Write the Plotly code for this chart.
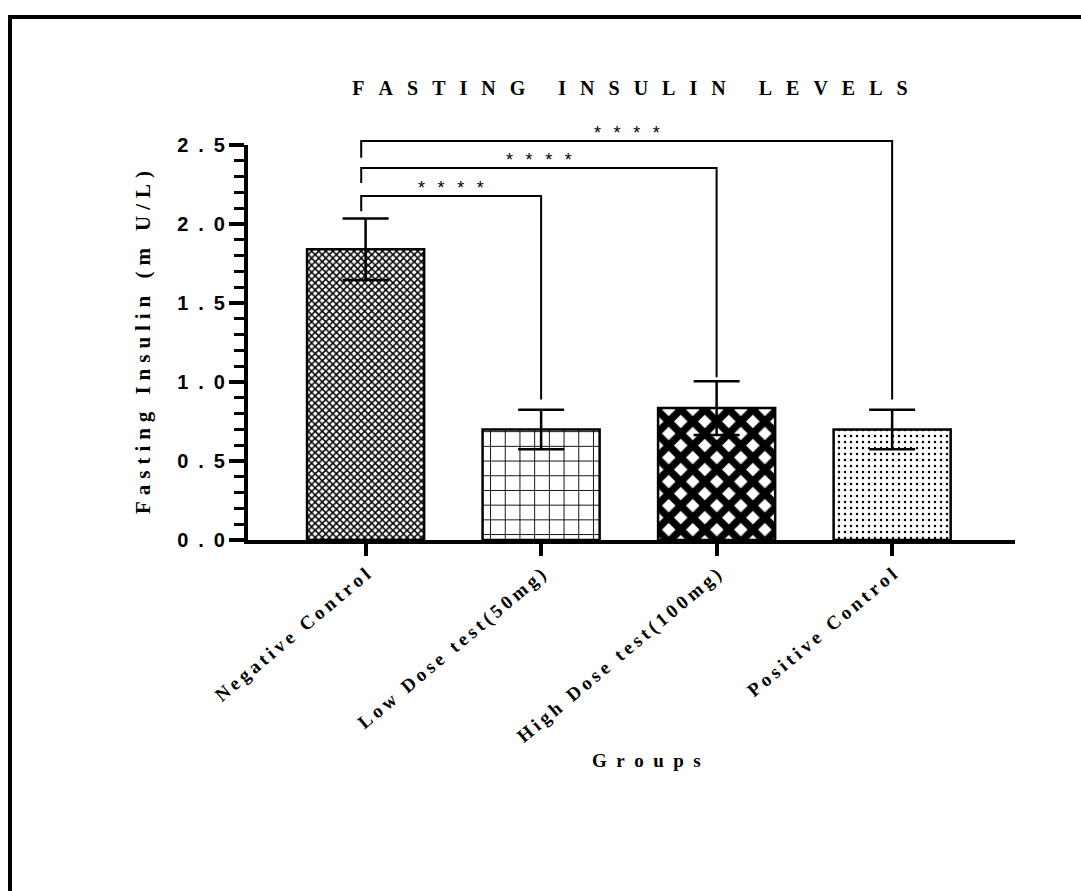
import plotly.graph_objects as go

# ---------------- data ----------------
groups = ["Negative Control", "Low Dose test(50mg)", "High Dose test(100mg)", "Positive Control"]
means = [1.84, 0.70, 0.835, 0.70]
sems = [0.195, 0.125, 0.17, 0.125]

comparisons = [(0, 1), (0, 2), (0, 3)]
bracket_levels = [2.177, 2.354, 2.525]
left_leg_ends = [2.08, 2.26, 2.42]
right_leg_ends = [0.89, 1.03, 0.89]
sig_labels = ["****", "****", "****"]

ytick_vals = [0, 0.5, 1.0, 1.5, 2.0, 2.5]
ytick_text = ["0.0", "0.5", "1.0", "1.5", "2.0", "2.5"]

title_text = "FASTING INSULIN LEVELS"
ytitle_text = "Fasting Insulin (m U/L)"
xtitle_text = "Groups"

# ---------------- style ----------------
pat_shapes = ["x", "+", "x", "."]
pat_sizes = [5, 14.7, 17, 6]
pat_solid = [0.5, 0.12, 0.68, 0.14]

W, H = 1081, 891
ML, MR, MT, MB = 248, 66, 115, 351
plot_h = H - MT - MB
plot_w = W - ML - MR
y_top = 2.5
yd1 = 395 / plot_h  # main y-axis domain top (axis ends at 2.5)

SERIF = "Liberation Serif"
SANS = "Liberation Sans"


def spaced(s, gap):
    return gap.join(s)


def px2x(p):
    return (p - ML) / plot_w


def py2y(p):
    return (H - MB - p) / plot_h


xs = list(range(len(groups)))

fig = go.Figure()
fig.add_trace(go.Bar(
    x=xs, y=means, width=0.667,
    marker=dict(
        color="white",
        line=dict(color="black", width=2.5),
        pattern=dict(shape=pat_shapes, size=pat_sizes, solidity=pat_solid,
                     fgcolor="black", bgcolor="white", fgopacity=1,
                     fillmode="replace"),
    ),
    error_y=dict(type="data", array=sems, visible=True, color="black",
                 thickness=2.5, width=23),
    showlegend=False, hoverinfo="skip",
))

# significance brackets (on a taller invisible axis with identical scale so they are not clipped)
for (a, b), lvl, le, re_, lab in zip(comparisons, bracket_levels, left_leg_ends,
                                     right_leg_ends, sig_labels):
    xa = xs[a] - 0.025
    xb = xs[b]
    fig.add_trace(go.Scatter(
        x=[xa, xa, xb, xb], y=[le, lvl, lvl, re_], mode="lines",
        line=dict(color="black", width=2), xaxis="x", yaxis="y2",
        showlegend=False, hoverinfo="skip",
    ))
    fig.add_annotation(
        x=(xa + xb) / 2, y=lvl, xref="x", yref="y2", yanchor="bottom",
        text=spaced(lab, "\u2002\u2009"), showarrow=False, yshift=-4,
        font=dict(family=SANS, size=18, color="black"),
    )

# frame (left/top visible, right/bottom beyond the page)
fig.add_shape(type="rect", xref="paper", yref="paper",
              x0=px2x(10), x1=px2x(W + 20), y0=py2y(H + 20), y1=py2y(17),
              line=dict(color="black", width=4), fillcolor="rgba(0,0,0,0)")

# x-axis title
fig.add_annotation(x=px2x(646), y=py2y(760), xref="paper", yref="paper",
                   text=spaced(xtitle_text, "\u2002"), showarrow=False,
                   xanchor="center", yanchor="middle",
                   font=dict(family=SERIF, size=19, color="black", weight="bold"))

fig.update_layout(
    width=W, height=H,
    margin=dict(l=ML, r=MR, t=MT, b=MB),
    paper_bgcolor="white", plot_bgcolor="rgba(0,0,0,0)",
    title=dict(text=spaced(title_text, "\u2002\u2009"), x=630 / W, xanchor="center",
               xref="container", yref="container", y=1 - 88 / H, yanchor="middle",
               font=dict(family=SERIF, size=20, color="black", weight="bold")),
    xaxis=dict(
        range=[-0.67, 3.70], tickvals=xs,
        ticktext=[spaced(g, "\u2009") for g in groups],
        tickangle=-40, showline=True, linecolor="black", linewidth=4,
        ticks="outside", ticklen=12, tickwidth=4, tickcolor="black",
        showgrid=False, zeroline=False, anchor="y",
        tickfont=dict(family=SERIF, size=19, color="black", weight="bold"),
    ),
    yaxis=dict(
        domain=[0, yd1], range=[0, y_top], tickvals=ytick_vals,
        ticktext=[spaced(t, "\u2002") for t in ytick_text],
        showline=True, linecolor="black", linewidth=4,
        ticks="outside", ticklen=15, tickwidth=4, tickcolor="black",
        minor=dict(dtick=0.1, ticks="outside", ticklen=10, tickwidth=3, tickcolor="black"),
        showgrid=False, zeroline=False,
        tickfont=dict(family=SANS, size=20, color="black", weight="bold"),
        title=dict(text=spaced(ytitle_text, "\u2009\u200a"), standoff=22,
                   font=dict(family=SERIF, size=21, color="black", weight="bold")),
    ),
    yaxis2=dict(domain=[0, 1], range=[0, y_top / yd1], visible=False,
                anchor="x", showgrid=False, zeroline=False, fixedrange=True),
)

fig.write_html("out.html")
